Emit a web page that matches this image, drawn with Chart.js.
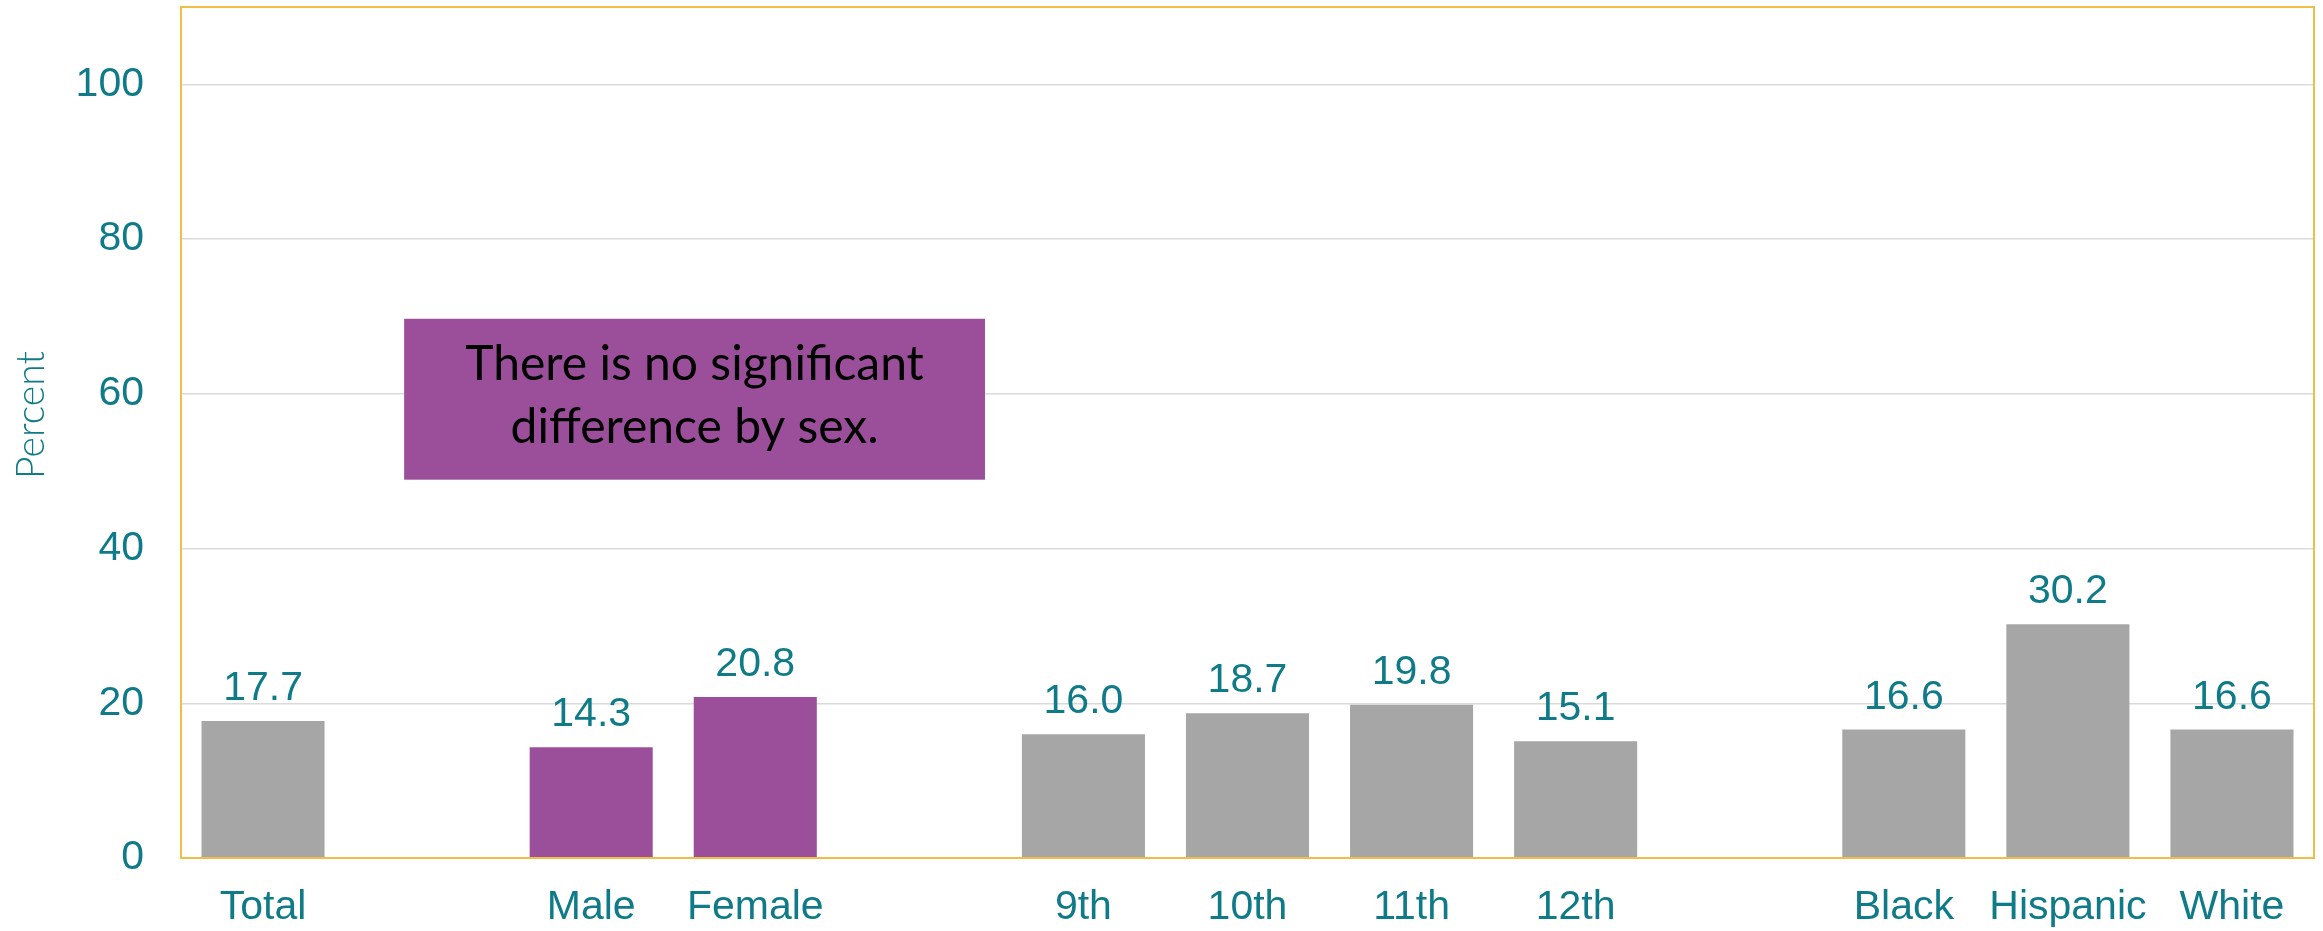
<!DOCTYPE html>
<html>
<head>
<meta charset="utf-8">
<script src="https://cdn.jsdelivr.net/npm/chart.js@4.4.1/dist/chart.umd.min.js"></script>
<style>
  body { margin: 0; background: #fff; }
  #wrap { width: 2323px; height: 931px; }
</style>
</head>
<body>
<div id="wrap"><canvas id="youthChart" width="2323" height="931"></canvas></div>
<script>
// categories (empty strings are the gaps between groups)
const categories = ["Total", "", "Male", "Female", "", "9th", "10th", "11th", "12th", "", "Black", "Hispanic", "White"];
const percentValues = [17.7, null, 14.3, 20.8, null, 16.0, 18.7, 19.8, 15.1, null, 16.6, 30.2, 16.6];
const barGroups = ["all", null, "sex", "sex", null, "grade", "grade", "grade", "grade", null, "race", "race", "race"];
const yTicks = [0, 20, 40, 60, 80, 100];
const noteLines = ["There is no significant", "difference by sex."];

const teal = "#0F7B88";
const purple = "#9B4F9B";
const grey = "#A6A6A6";
const gold = "#EEBE45";

const barColors = barGroups.map(g => g === "sex" ? purple : grey);

// value labels above each bar
const valueLabels = {
  id: "valueLabels",
  afterDatasetsDraw(chart) {
    const ctx = chart.ctx;
    const meta = chart.getDatasetMeta(0);
    ctx.save();
    ctx.font = "41px 'Liberation Sans', Arial, sans-serif";
    ctx.fillStyle = teal;
    ctx.textAlign = "center";
    ctx.textBaseline = "alphabetic";
    meta.data.forEach((bar, i) => {
      const v = percentValues[i];
      if (v === null) return;
      ctx.fillText(v.toFixed(1), bar.x, bar.y - 21);
    });
    ctx.restore();
  }
};

// golden frame round the plot area + the note box + axis title
const frameAndNote = {
  id: "frameAndNote",
  afterDraw(chart) {
    const ctx = chart.ctx;
    const a = chart.chartArea;
    const x = chart.scales.x;
    const y = chart.scales.y;
    ctx.save();
    ctx.strokeStyle = gold;
    ctx.lineWidth = 2;
    ctx.strokeRect(a.left, a.top, a.right - a.left, a.bottom - a.top);

    // note box
    const left = x.getPixelForValue(0.86);
    const right = x.getPixelForValue(4.4);
    const top = y.getPixelForValue(69.7);
    const bottom = y.getPixelForValue(48.9);
    ctx.fillStyle = purple;
    ctx.fillRect(left, top, right - left, bottom - top);

    ctx.font = "100px Lato, 'Open Sans', sans-serif";
    const size = 100 * 459 / ctx.measureText(noteLines[0]).width;
    ctx.font = size.toFixed(1) + "px Lato, 'Open Sans', sans-serif";
    ctx.fillStyle = "#000";
    ctx.textAlign = "center";
    ctx.textBaseline = "alphabetic";
    const cx = (left + right) / 2;
    ctx.fillText(noteLines[0], cx, top + 61);
    ctx.fillText(noteLines[1], cx, top + 124);

    // y axis title
    ctx.translate(31, 415);
    ctx.rotate(-Math.PI / 2);
    ctx.font = "300 100px Lato, sans-serif";
    const ts = 100 * 128 / ctx.measureText("Percent").width;
    ctx.font = "300 " + ts.toFixed(1) + "px Lato, sans-serif";
    ctx.fillStyle = teal;
    ctx.textBaseline = "middle";
    ctx.fillText("Percent", 0, 0);
    ctx.restore();
  }
};

const ctx = document.getElementById("youthChart").getContext("2d");

const youthChart = new Chart(ctx, {
  type: "bar",
  data: {
    labels: categories,
    datasets: [{
      data: percentValues,
      backgroundColor: barColors,
      borderWidth: 0,
      categoryPercentage: 1.0,
      barPercentage: 0.75
    }]
  },
  options: {
    responsive: false,
    animation: false,
    layout: { padding: { left: 0, right: 9, top: 7, bottom: 0 } },
    plugins: {
      legend: { display: false },
      tooltip: { enabled: false }
    },
    scales: {
      x: {
        grid: { display: false, drawTicks: false },
        border: { display: false },
        ticks: {
          color: teal,
          padding: 25,
          maxRotation: 0,
          autoSkip: false,
          font: { family: "'Liberation Sans', Arial, sans-serif", size: 41 }
        },
        afterFit(scale) {
          scale.height = 73;
          scale.paddingLeft = 0;
          scale.paddingRight = 0;
        }
      },
      y: {
        min: 0,
        max: 110,
        afterBuildTicks(scale) {
          scale.ticks = yTicks.map(v => ({ value: v }));
        },
        grid: { color: "#DADADA", lineWidth: 1.5, drawTicks: false },
        border: { display: false },
        ticks: {
          color: teal,
          padding: 37,
          font: { family: "'Liberation Sans', Arial, sans-serif", size: 41 }
        },
        afterFit(scale) {
          scale.width = 181;
          scale.paddingTop = 0;
          scale.paddingBottom = 0;
        }
      }
    }
  },
  plugins: [valueLabels, frameAndNote]
});
</script>
</body>
</html>
